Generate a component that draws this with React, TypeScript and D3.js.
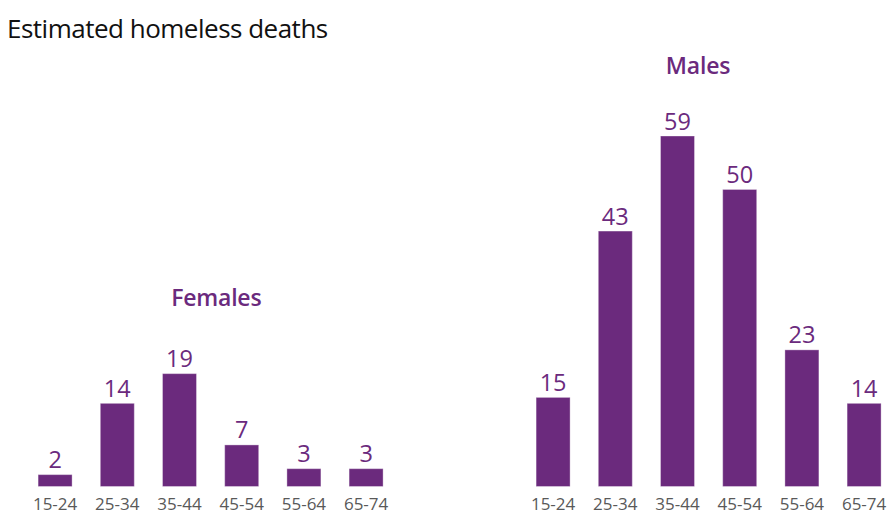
import React from "react";
import * as d3 from "d3";

const ageGroups = ["15-24", "25-34", "35-44", "45-54", "55-64", "65-74"];
const femaleDeaths = [2, 14, 19, 7, 3, 3];
const maleDeaths = [15, 43, 59, 50, 23, 14];
const chartTitle = "Estimated homeless deaths";
const panelTitles = ["Females", "Males"];

const W = 887;
const H = 513;
const PURPLE = "#6b2a7d";
const FONT = "'Open Sans', 'Noto Sans', sans-serif";

const baseline = 486.5;
const y = d3.scaleLinear().domain([0, 59]).range([baseline, 136]);

function Panel({ title, values, range, titleX, titleY }: { title: string; values: number[]; range: [number, number]; titleX: number; titleY: number }) {
  const x = d3.scaleBand<string>().domain(ageGroups).range(range).paddingInner(0.4534).paddingOuter(0.2267);
  return (
    <g>
      <text x={titleX} y={titleY} textAnchor="middle" fill={PURPLE} fontSize={23} fontWeight={600} fontFamily={FONT} letterSpacing={-0.2}>
        {title}
      </text>
      {values.map((v, i) => {
        const g = ageGroups[i];
        const bx = x(g)!;
        const bw = x.bandwidth();
        return (
          <g key={g}>
            <rect x={bx} y={y(v)} width={bw} height={baseline - y(v)} fill={PURPLE} stroke="rgba(255,255,255,0.35)" strokeWidth={1} />
            <text x={bx + bw / 2} y={y(v) - 6.5} textAnchor="middle" fill={PURPLE} fontSize={23.5} fontFamily={FONT}>
              {v}
            </text>
            <text x={bx + bw / 2} y={509.5} textAnchor="middle" fill="#595959" fontSize={17} fontFamily={FONT}>
              {g}
            </text>
          </g>
        );
      })}
    </g>
  );
}

export default function App() {
  return (
    <svg width={W} height={H} style={{ position: "absolute", left: 0, top: 0, background: "#fff" }}>
      <text x={7} y={37.5} fill="#111" fontSize={26} fontFamily={FONT} letterSpacing={-0.5}>
        {chartTitle}
      </text>
      <Panel title={panelTitles[0]} values={femaleDeaths} range={[24, 397.2]} titleX={216.3} titleY={306} />
      <Panel title={panelTitles[1]} values={maleDeaths} range={[522, 895.2]} titleX={698} titleY={73.5} />
    </svg>
  );
}
